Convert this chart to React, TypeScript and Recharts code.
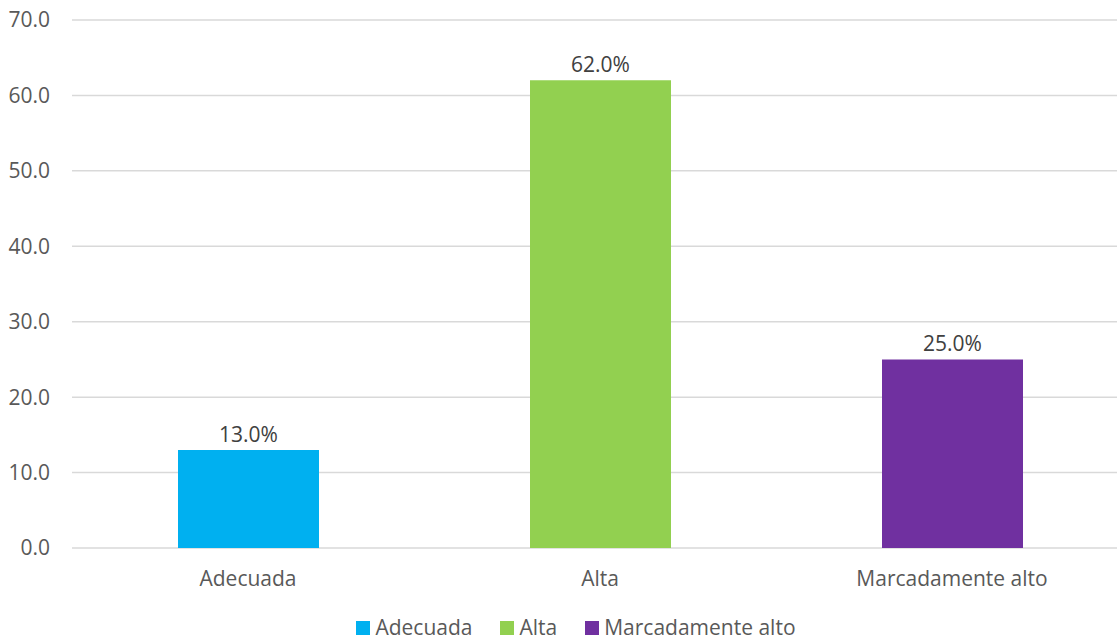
import { BarChart, Bar, XAxis, YAxis, CartesianGrid, Cell, LabelList, Legend } from 'recharts';

const categories = ['Adecuada', 'Alta', 'Marcadamente alto'];
const percentages = [13.0, 62.0, 25.0];
const barColors = ['#00b0f0', '#92d050', '#7030a0'];
const yTicks = [0, 10, 20, 30, 40, 50, 60, 70];

const data = categories.map((name, i) => ({ name, value: percentages[i] }));

const FONT = '"Open Sans", "Noto Sans", sans-serif';
const TEXT = '#595959';
const FS = 21;

// one legend entry per category, like the spreadsheet original
const renderLegend = () => (
  <div style={{ height: 26, paddingLeft: 24, boxSizing: 'border-box', display: 'flex', justifyContent: 'center', alignItems: 'center', gap: 28, fontFamily: FONT, fontSize: FS, lineHeight: '24px', color: TEXT }}>
    {categories.map((c, i) => (
      <span key={c} style={{ display: 'flex', alignItems: 'center', gap: 5 }}>
        <span style={{ width: 14, height: 14, marginTop: 2, background: barColors[i], display: 'inline-block' }} />
        {c}
      </span>
    ))}
  </div>
);

const App = () => {
  return (
    <div style={{ position: 'absolute', left: 0, top: 0, width: 1117, height: 640, overflow: 'hidden', background: '#fff' }}>
      <BarChart width={1128} height={640} data={data} margin={{ top: 20, right: 0, left: 0, bottom: 0 }}>
        <CartesianGrid vertical={false} stroke="#d9d9d9" strokeWidth={1.5} />
        <XAxis
          dataKey="name"
          axisLine={false}
          tickLine={false}
          tickSize={0}
          tickMargin={23}
          height={66}
          tick={{ fill: TEXT, fontSize: FS, fontFamily: FONT }}
        />
        <YAxis
          domain={[0, 70]}
          ticks={yTicks}
          axisLine={false}
          tickLine={false}
          tickSize={0}
          tickMargin={22}
          width={72}
          tickFormatter={(v: number) => v.toFixed(1)}
          tick={{ fill: TEXT, fontSize: FS, fontFamily: FONT }}
        />
        <Legend verticalAlign="bottom" content={renderLegend} />
        <Bar dataKey="value" barSize={141} isAnimationActive={false}>
          {data.map((d, i) => (
            <Cell key={d.name} fill={barColors[i]} />
          ))}
          <LabelList
            dataKey="value"
            position="top"
            offset={8}
            fill="#404040"
            fontSize={FS}
            fontFamily={FONT}
            formatter={(v: any) => `${Number(v).toFixed(1)}%`}
          />
        </Bar>
      </BarChart>
    </div>
  );
};

export default App;
